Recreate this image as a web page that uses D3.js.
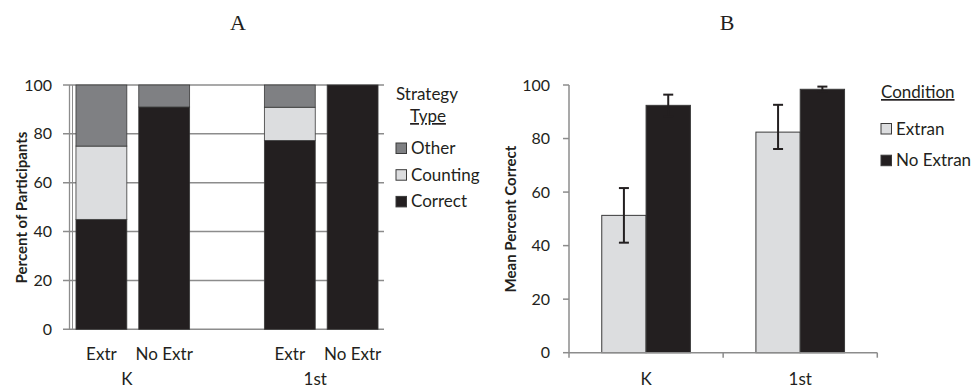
<!DOCTYPE html>
<html><head><meta charset="utf-8">
<script src="https://cdn.jsdelivr.net/npm/d3@7"></script>
<style>
html,body{margin:0;padding:0;background:#fff;}
svg{display:block;font-family:Lato, "Open Sans", sans-serif;}
</style></head>
<body><svg id="c" width="971" height="390"></svg>
<script>
// ---------- Panel A data ----------
const gradesA = ["K", "K", "1st", "1st"];
const conditionsA = ["Extr", "No Extr", "Extr", "No Extr"];
const correctA = [45, 91, 77.3, 100];
const countingA = [30, 0, 13.6, 0];
const otherA = [25, 9, 9.1, 0];
const strategyKeys = ["Correct", "Counting", "Other"];
const legendOrderA = ["Other", "Counting", "Correct"];
const yTicks = [0, 20, 40, 60, 80, 100];

// ---------- Panel B data ----------
const gradesB = ["K", "1st"];
const conditionsB = ["Extran", "No Extran"];
const meanExtran = [51.3, 82.4];
const meanNoExtran = [92.4, 98.4];
const errHiExtran = [61.5, 92.6];
const errLoExtran = [41.1, 76.1];
const errHiNoExtran = [96.4, 99.4];
const errLoNoExtran = [88.4, 97.4];

const colA = {Other: "#7f8083", Counting: "#dcdddf", Correct: "#231f20"};
const colB = {"Extran": "#dcdddf", "No Extran": "#231f20"};
const axisCol = "#8c8c8c";
const textCol = "#231f20";
const FS = "17px", TFS = "16px";

const svg = d3.select("#c");

// titles
svg.append("text").attr("x", 238).attr("y", 30).attr("text-anchor", "middle")
  .style("font-family", "'Liberation Serif', 'DejaVu Serif', serif").style("font-size", "22px").attr("fill", textCol).text("A");
svg.append("text").attr("x", 727).attr("y", 30).attr("text-anchor", "middle")
  .style("font-family", "'Liberation Serif', 'DejaVu Serif', serif").style("font-size", "22px").attr("fill", textCol).text("B");

// ================= Panel A =================
const rowsA = gradesA.map((g, i) => ({key: g + "|" + conditionsA[i], grade: g, cond: conditionsA[i],
  Correct: correctA[i], Counting: countingA[i], Other: otherA[i]}));
const slotsA = [rowsA[0].key, rowsA[1].key, "_gap_", rowsA[2].key, rowsA[3].key];
const xA = d3.scaleBand().domain(slotsA).range([70, 384]).paddingInner(0.19).paddingOuter(0.095);
const yA = d3.scaleLinear().domain([0, 100]).range([329.3, 85]);

const gA = svg.append("g");
// gridlines
gA.selectAll("line.grid").data(yTicks).join("line")
  .attr("x1", 63).attr("x2", 384).attr("y1", d => yA(d)).attr("y2", d => yA(d))
  .attr("stroke", axisCol).attr("stroke-width", 1.5);
// y axis line
gA.append("line").attr("x1", 69.5).attr("x2", 69.5).attr("y1", yA(100)).attr("y2", yA(0))
  .attr("stroke", axisCol).attr("stroke-width", 1.3);
gA.append("line").attr("x1", 72.5).attr("x2", 72.5).attr("y1", yA(100)).attr("y2", yA(0))
  .attr("stroke", axisCol).attr("stroke-width", 1);
// tick labels
gA.selectAll("text.yt").data(yTicks).join("text")
  .attr("x", 52).attr("y", d => yA(d)).attr("dy", "0.35em").attr("text-anchor", "end")
  .style("font-size", TFS).attr("fill", textCol).text(d => d);

const stackA = d3.stack().keys(strategyKeys)(rowsA);
gA.selectAll("g.layer").data(stackA).join("g")
  .attr("fill", d => colA[d.key])
  .selectAll("rect").data(d => d.filter(s => s[1] - s[0] > 0)).join("rect")
  .attr("x", d => xA(d.data.key)).attr("width", xA.bandwidth())
  .attr("y", d => yA(d[1])).attr("height", d => yA(d[0]) - yA(d[1]))
  .attr("stroke", "#3a3a3a").attr("stroke-width", 0.8);

// category labels
gA.selectAll("text.cond").data(rowsA).join("text")
  .attr("x", d => xA(d.key) + xA.bandwidth() / 2).attr("y", 360)
  .attr("text-anchor", "middle").style("font-size", FS).attr("fill", textCol).text(d => d.cond);
const gradeGroupsA = Array.from(d3.group(rowsA, d => d.grade), ([g, rs]) => ({g, rs}));
gA.selectAll("text.grade").data(gradeGroupsA).join("text")
  .attr("x", d => (xA(d.rs[0].key) + xA(d.rs[d.rs.length - 1].key) + xA.bandwidth()) / 2 - 6)
  .attr("y", 385).attr("text-anchor", "middle").style("font-size", FS).attr("fill", textCol).text(d => d.g);

// y axis title
gA.append("text").attr("transform", "translate(26.5,207.5) rotate(-90)").attr("text-anchor", "middle")
  .style("font-size", "15px").style("font-weight", "bold").attr("fill", textCol).text("Percent of Participants");

// legend A
gA.append("text").attr("x", 396).attr("y", 100).style("font-size", FS).attr("fill", textCol).text("Strategy");
gA.append("text").attr("x", 428).attr("y", 122).attr("text-anchor", "middle").style("font-size", FS)
  .attr("fill", textCol).attr("text-decoration", "underline").text("Type");
const legA = gA.selectAll("g.leg").data(legendOrderA).join("g")
  .attr("transform", (d, i) => `translate(396,${143 + i * 26.7})`);
legA.append("rect").attr("width", 10.5).attr("height", 10.5).attr("fill", d => colA[d])
  .attr("stroke", "#3a3a3a").attr("stroke-width", 1);
legA.append("text").attr("x", 15).attr("y", 11).style("font-size", FS).attr("fill", textCol).text(d => d);

// ================= Panel B =================
const rowsB = gradesB.map((g, i) => ({grade: g, vals: [
  {cond: conditionsB[0], v: meanExtran[i], hi: errHiExtran[i], lo: errLoExtran[i]},
  {cond: conditionsB[1], v: meanNoExtran[i], hi: errHiNoExtran[i], lo: errLoNoExtran[i]}]}));
const xB = d3.scaleBand().domain(gradesB).range([569, 877.3]).paddingInner(0.425).paddingOuter(0.2125);
const xB2 = d3.scaleBand().domain(conditionsB).range([0, xB.bandwidth()]);
const yB = d3.scaleLinear().domain([0, 100]).range([352.7, 85]);

const gB = svg.append("g");
// axes
gB.append("line").attr("x1", 569).attr("x2", 569).attr("y1", yB(100)).attr("y2", yB(0))
  .attr("stroke", axisCol).attr("stroke-width", 1.5);
gB.selectAll("line.yt").data(yTicks).join("line")
  .attr("x1", 563).attr("x2", 569).attr("y1", d => yB(d)).attr("y2", d => yB(d))
  .attr("stroke", axisCol).attr("stroke-width", 1.5);
gB.selectAll("text.yt").data(yTicks).join("text")
  .attr("x", 550).attr("y", d => yB(d)).attr("dy", "0.35em").attr("text-anchor", "end")
  .style("font-size", TFS).attr("fill", textCol).text(d => d);
const xTickPos = [xB.range()[0]].concat(gradesB.map(g => xB(g) + xB.bandwidth() / 2 + xB.step() / 2));
gB.selectAll("line.xt").data(xTickPos).join("line")
  .attr("x1", d => d).attr("x2", d => d).attr("y1", yB(0)).attr("y2", yB(0) + 5)
  .attr("stroke", axisCol).attr("stroke-width", 1.5);

const grpB = gB.selectAll("g.grp").data(rowsB).join("g")
  .attr("transform", d => `translate(${xB(d.grade)},0)`);
grpB.selectAll("rect").data(d => d.vals).join("rect")
  .attr("x", d => xB2(d.cond)).attr("width", xB2.bandwidth())
  .attr("y", d => yB(d.v)).attr("height", d => yB(0) - yB(d.v))
  .attr("fill", d => colB[d.cond]).attr("stroke", "#3a3a3a").attr("stroke-width", 1);
// error bars
const eb = grpB.selectAll("g.eb").data(d => d.vals).join("g")
  .attr("transform", d => `translate(${xB2(d.cond) + xB2.bandwidth() / 2},0)`)
  .attr("stroke", "#231f20").attr("stroke-width", 2);
eb.append("line").attr("y1", d => yB(d.lo)).attr("y2", d => yB(d.hi));
eb.append("line").attr("x1", -5).attr("x2", 5).attr("y1", d => yB(d.hi)).attr("y2", d => yB(d.hi));
eb.append("line").attr("x1", -5).attr("x2", 5).attr("y1", d => yB(d.lo)).attr("y2", d => yB(d.lo));

gB.append("line").attr("x1", 569).attr("x2", 877.3).attr("y1", yB(0)).attr("y2", yB(0))
  .attr("stroke", axisCol).attr("stroke-width", 1.5);

gB.selectAll("text.grade").data(gradesB).join("text")
  .attr("x", d => xB(d) + xB.bandwidth() / 2).attr("y", 385).attr("text-anchor", "middle")
  .style("font-size", FS).attr("fill", textCol).text(d => d);

gB.append("text").attr("transform", "translate(515.5,219) rotate(-90)").attr("text-anchor", "middle")
  .style("font-size", "15px").style("font-weight", "bold").attr("fill", textCol).text("Mean Percent Correct");

// legend B
gB.append("text").attr("x", 881).attr("y", 98).style("font-size", FS).attr("fill", textCol)
  .attr("text-decoration", "underline").text("Condition");
const legB = gB.selectAll("g.leg").data(conditionsB).join("g")
  .attr("transform", (d, i) => `translate(881,${123.5 + i * 31.7})`);
legB.append("rect").attr("width", 10.5).attr("height", 10.5).attr("fill", d => colB[d])
  .attr("stroke", "#3a3a3a").attr("stroke-width", 1);
legB.append("text").attr("x", 15).attr("y", 11).style("font-size", FS).attr("fill", textCol).text(d => d);
</script></body></html>
